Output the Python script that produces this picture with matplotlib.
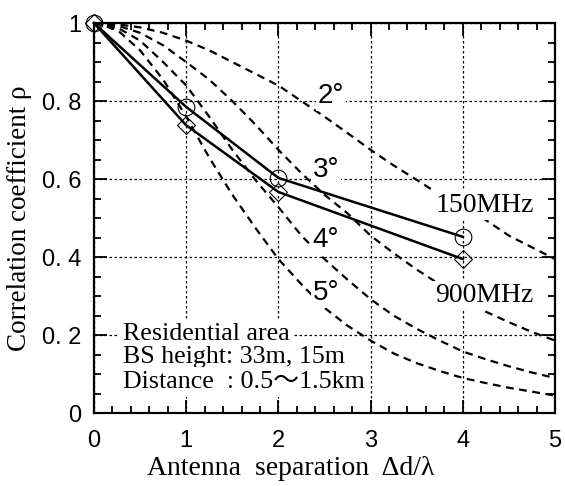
import matplotlib
matplotlib.use("Agg")
import matplotlib.pyplot as plt
from matplotlib.ticker import MultipleLocator, FixedLocator

# antenna separation (in wavelengths) sampled along the model curves
sep = [0.0, 0.25, 0.5, 0.75, 1.0, 1.25, 1.5, 1.75, 2.0, 2.25, 2.5,
       2.75, 3.0, 3.25, 3.5, 3.75, 4.0, 4.25, 4.5, 4.75, 5.0]

# theoretical correlation for each angular spread
rho_2deg = [1.000, 0.997, 0.989, 0.975, 0.955, 0.930, 0.900, 0.870, 0.840, 0.800, 0.760,
            0.718, 0.675, 0.635, 0.598, 0.560, 0.528, 0.495, 0.455, 0.425, 0.395]
rho_3deg = [1.000, 0.994, 0.975, 0.943, 0.900, 0.855, 0.800, 0.740, 0.675, 0.615, 0.560,
            0.512, 0.455, 0.410, 0.368, 0.330, 0.292, 0.260, 0.233, 0.208, 0.186]
rho_4deg = [1.000, 0.989, 0.955, 0.900, 0.840, 0.760, 0.675, 0.598, 0.528, 0.455, 0.395,
            0.342, 0.292, 0.250, 0.216, 0.186, 0.158, 0.138, 0.120, 0.104, 0.090]
rho_5deg = [1.000, 0.983, 0.930, 0.855, 0.760, 0.655, 0.560, 0.475, 0.395, 0.330, 0.270,
            0.224, 0.186, 0.153, 0.128, 0.108, 0.090, 0.077, 0.065, 0.055, 0.045]
spread_labels = ["2°", "3°", "4°", "5°"]

# measured correlation
meas_sep = [0, 1, 2, 4]
rho_150 = [1.0, 0.785, 0.603, 0.452]
rho_900 = [1.0, 0.738, 0.567, 0.395]

y_ticks = [0, 0.2, 0.4, 0.6, 0.8, 1.0]
y_ticklabels = ["0", "0. 2", "0. 4", "0. 6", "0. 8", "1"]
x_ticks = [0, 1, 2, 3, 4, 5]

notes = ["Residential area", "BS height: 33m, 15m", "Distance  : 0.5～1.5km"]

SANS = ["Liberation Sans Narrow", "Liberation Sans", "DejaVu Sans"]
SERIF = ["Liberation Serif", "Noto Sans CJK JP", "DejaVu Serif"]

fig = plt.figure(figsize=(5.65, 4.86), dpi=100)
ax = fig.add_axes([0.1664, 0.150, 0.8159, 0.8025])

dash = (0, (3.5, 2.5))
for rho in [rho_2deg, rho_3deg, rho_4deg, rho_5deg]:
    ax.plot(sep, rho, color="black", lw=1.6, linestyle=dash, zorder=2)

ax.plot(meas_sep, rho_150, color="black", lw=1.8, marker="o", ms=12,
        mfc="none", mec="black", mew=0.8, clip_on=False, zorder=4)
ax.plot(meas_sep, rho_900, color="black", lw=1.8, marker="D", ms=9,
        mfc="none", mec="black", mew=0.8, clip_on=False, zorder=4)

box = dict(facecolor="white", edgecolor="none", pad=1.5)

# angular spread labels
spread_pos = [(2.43, 0.795), (2.37, 0.605), (2.37, 0.426), (2.37, 0.29)]
for lab, (xp, yp) in zip(spread_labels, spread_pos):
    ax.text(xp, yp, lab, family=SANS, fontsize=20, ha="left", va="baseline",
            bbox=box, zorder=3)

ax.text(3.70, 0.515, "150MHz", family=SERIF, fontsize=20, ha="left",
        va="baseline", bbox=box, zorder=3)
ax.text(3.70, 0.285, "900MHz", family=SERIF, fontsize=20, ha="left",
        va="baseline", bbox=box, zorder=3)

for txt, yp in zip(notes, [0.187, 0.128, 0.064]):
    ax.text(0.315, yp, txt, family=SERIF, fontsize=18.7, ha="left",
            va="baseline", bbox=dict(facecolor="white", edgecolor="none", pad=3),
            zorder=3)

ax.set_xlim(0, 5)
ax.set_ylim(0, 1)
ax.xaxis.set_major_locator(FixedLocator(x_ticks))
ax.xaxis.set_minor_locator(MultipleLocator(0.2))
ax.yaxis.set_major_locator(FixedLocator(y_ticks))
ax.yaxis.set_minor_locator(MultipleLocator(0.05))
ax.set_yticklabels(y_ticklabels)
ax.set_xticklabels([str(v) for v in x_ticks])

ax.grid(True, which="major", color="black", lw=0.9, linestyle=(0, (2, 2)), zorder=1)
ax.set_axisbelow(True)

ax.tick_params(which="both", direction="in", top=True, right=True, width=1.3)
ax.tick_params(which="major", length=9.5, pad=12, labelsize=17)
ax.tick_params(which="minor", length=5)
for lab in ax.get_xticklabels() + ax.get_yticklabels():
    lab.set_family(SANS)
ax.tick_params(axis="y", pad=9)
for sp in ax.spines.values():
    sp.set_linewidth(1.6)

ax.set_xlabel("Antenna  separation  Δd/λ", family=SERIF, fontsize=20)
ax.xaxis.set_label_coords(0.427, -0.11)
ax.set_ylabel("Correlation coefficient ρ", family=SERIF, fontsize=19.5)
ax.yaxis.set_label_coords(-0.135, 0.5)

fig.savefig("out.png", dpi=100, facecolor="white")
